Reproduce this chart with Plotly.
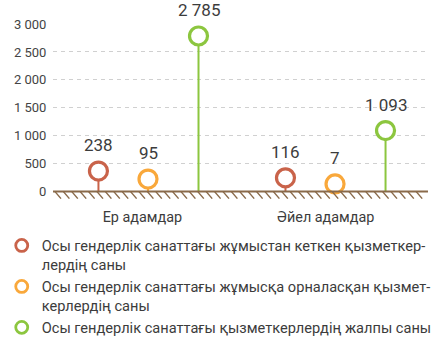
import plotly.graph_objects as go

categories = ["Ер адамдар", "Әйел адамдар"]
series_names = [
    "Осы гендерлік санаттағы жұмыстан кеткен қызметкер-<br>лердің саны",
    "Осы гендерлік санаттағы жұмысқа орналасқан қызмет-<br>керлердің саны",
    "Осы гендерлік санаттағы қызметкерлердің жалпы саны",
]
left_values = [238, 116]
hired_values = [95, 7]
total_values = [2785, 1093]
y_ticks = [0, 500, 1000, 1500, 2000, 2500, 3000]
y_tick_labels = ["0", "500", "1 000", "1 500", "2 000", "2 500", "3 000"]

colors = ["#c9634a", "#f9a83b", "#8cc63f"]
offsets = [-0.265, 0.0, 0.27]
cat_pos = [0, 1]
SMALL = 500   # small values get lifted so the circle clears the ground line
LIFT = 130

fig = go.Figure()
all_series = [left_values, hired_values, total_values]
annotations = []
for s, vals in enumerate(all_series):
    xs = [p + offsets[s] for p in cat_pos]
    ys = [v + LIFT if v < SMALL else v for v in vals]
    sx, sy = [], []
    for x, y in zip(xs, ys):
        sx += [x, x, None]
        sy += [0, y, None]
    fig.add_trace(go.Scatter(x=sx, y=sy, mode="lines", line=dict(color=colors[s], width=2),
                             showlegend=False, hoverinfo="skip", cliponaxis=False))
    fig.add_trace(go.Scatter(x=xs, y=ys, mode="markers", showlegend=False, cliponaxis=False,
                             marker=dict(symbol="circle", size=18, color="white",
                                         line=dict(color=colors[s], width=3.2))))
    fig.add_trace(go.Scatter(x=[None], y=[None], mode="markers", name=series_names[s],
                             marker=dict(symbol="circle", size=12, color="white",
                                         line=dict(color=colors[s], width=2.8))))
    for x, y, v in zip(xs, ys, vals):
        annotations.append(dict(x=x, y=y, text=f"{v:,}".replace(",", " "), showarrow=False,
                                yshift=26, font=dict(size=17, color="#3c3c3c",
                                                     family="Roboto")))

# ground line with hatching
shapes = [dict(type="line", xref="paper", yref="y", x0=0, x1=1.008, y0=0, y1=0,
               line=dict(color="#8a6a4a", width=2), layer="above")]
path = ""
x = 2
while x < 368:
    path += f"M{x:.1f},0 L{x+6:.1f},-7 "
    x += 8.4
shapes.append(dict(type="path", xref="paper", yref="y", xsizemode="pixel", ysizemode="pixel",
                   xanchor=0, yanchor=0, path=path, line=dict(color="#8a6a4a", width=1.5),
                   layer="above"))

fig.update_layout(
    width=436, height=353,
    margin=dict(l=53, r=11, t=24, b=153, autoexpand=False),
    paper_bgcolor="white", plot_bgcolor="white",
    font=dict(family="Roboto", color="#444444"),
    shapes=shapes, annotations=annotations,
    legend=dict(x=0.004, y=0.35, xref="container", yref="container", xanchor="left",
                yanchor="top", valign="top", font=dict(size=14.6, color="#3c3c3c"),
                itemwidth=30, tracegroupgap=0),
    hovermode=False,
)
fig.update_xaxes(range=[-0.508, 1.481], tickvals=[-0.03, 0.95], ticktext=categories,
                 showgrid=False, zeroline=False, showline=False, ticks="outside", ticklen=4,
                 tickcolor="rgba(0,0,0,0)", tickfont=dict(size=14.4, color="#3c3c3c"))
fig.update_yaxes(range=[-150, 3000], tickvals=y_ticks, ticktext=y_tick_labels,
                 showgrid=True, gridcolor="#d0d0d0", griddash="4px,4px", gridwidth=1,
                 zeroline=False, showline=False, ticks="outside", ticklen=3,
                 tickcolor="rgba(0,0,0,0)", tickfont=dict(size=13, color="#444444"))

fig.write_html("out.html")
